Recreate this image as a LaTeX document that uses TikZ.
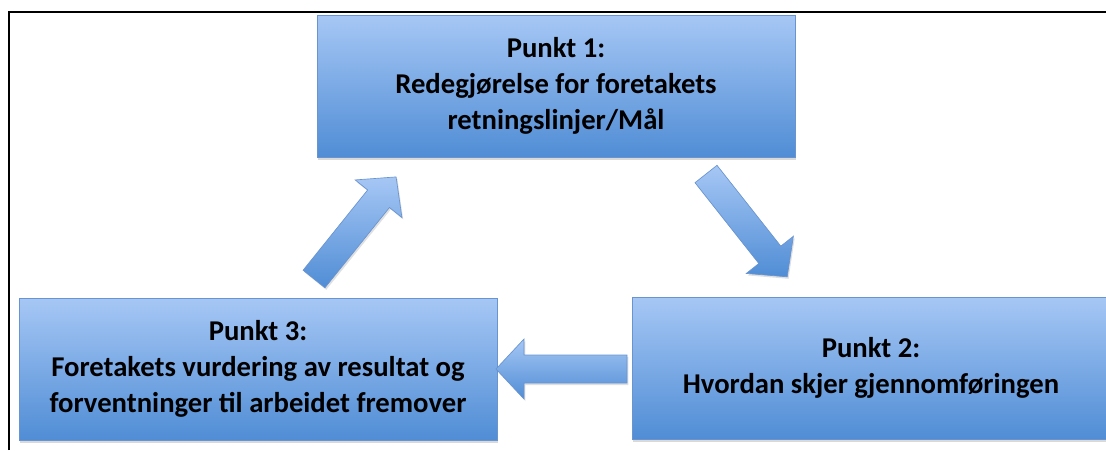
\documentclass[tikz,border=0pt]{standalone}
\usepackage{fontspec}
\setsansfont{Carlito}
\usepackage{tikz}
\usetikzlibrary{shadows}
\definecolor{boxtop}{RGB}{166,199,245}
\definecolor{boxbot}{RGB}{80,141,213}
\definecolor{boxline}{RGB}{105,148,208}

\begin{document}
\begin{tikzpicture}
    [font=\sffamily\bfseries\fontsize{21.5}{27}\selectfont,
     x=.75pt, y=-.75pt,
     punkt/.style={draw=boxline, line width=.6pt,
         top color=boxtop, bottom color=boxbot,
         minimum width=358.5pt, minimum height=106.5pt,
         inner sep=0pt, align=center,
         drop shadow={shadow xshift=1pt, shadow yshift=-2pt, opacity=.3}},
     pil/.style={draw=boxline, line width=.5pt,
         top color=boxtop, bottom color=boxbot,
         drop shadow={shadow xshift=1pt, shadow yshift=-1.5pt, opacity=.25}},
    ]
    \useasboundingbox (0, 0) rectangle (1106, 450);
    \clip (0, 0) rectangle (1106, 450);

    % Frame
    \draw[line width=1.5pt] (9, 450) -- (9, 12) -- (1106, 12);

    % Boxes
    \node[punkt] (p1) at (556, 86)
        {Punkt 1:\\Redegjørelse for foretakets\\retningslinjer/Mål};
    \node[punkt] (p2) at (871, 368)
        {Punkt 2:\\Hvordan skjer gjennomføringen};
    \node[punkt] (p3) at (258, 369)
        {Punkt 3:\\Foretakets vurdering av resultat og\\forventninger til arbeidet fremover};

    % Block arrows
    \foreach \pn / \px / \py / \angle in
             {a31/314/279/51.2, a12/706/174/-51.7, a23/627/369/180} {
        \coordinate (\pn) at (\px, \py);
        \begin{scope}[shift={(\pn)}, rotate=\angle]
            \draw[pil] (0, -14) -- (103, -14) -- (103, -30) -- (131, 0) --
                (103, 30) -- (103, 14) -- (0, 14) -- cycle;
        \end{scope}
    }
\end{tikzpicture}
\end{document}
